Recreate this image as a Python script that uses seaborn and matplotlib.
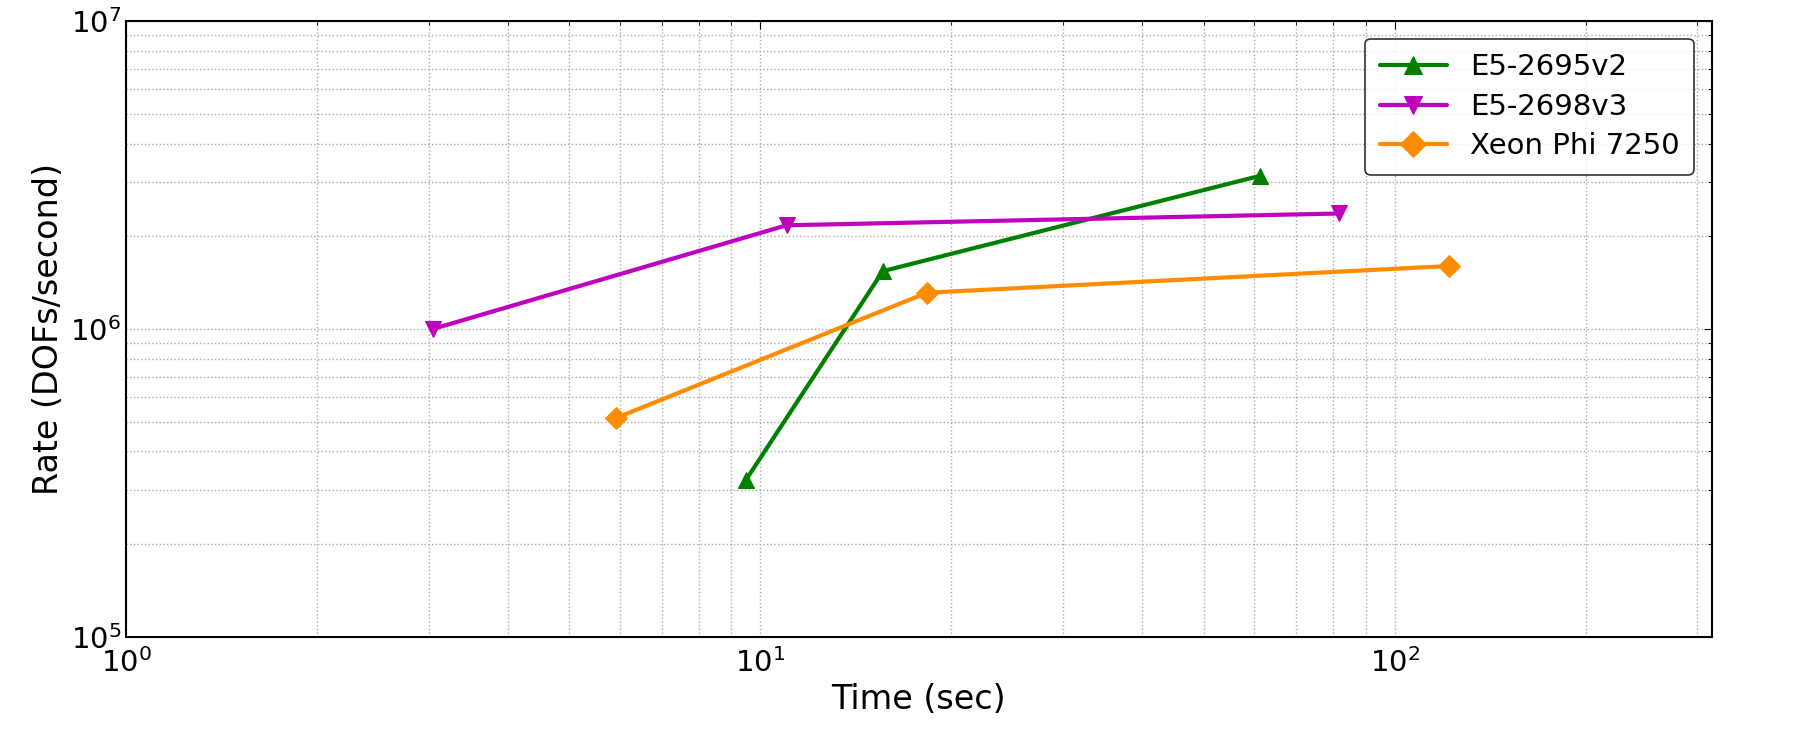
import matplotlib
matplotlib.use("Agg")
import matplotlib.pyplot as plt
import numpy as np
import pandas as pd
import seaborn as sns

# ---- data ----
SERIES = ["E5-2695v2", "E5-2698v3", "Xeon Phi 7250"]
time_2695 = [9.5, 15.6, 61.3]
rate_2695 = [3.24e5, 1.54e6, 3.14e6]
time_2698 = [3.05, 11.0, 81.8]
rate_2698 = [1.0e6, 2.17e6, 2.37e6]
time_phi = [5.93, 18.3, 121.7]
rate_phi = [5.14e5, 1.31e6, 1.60e6]

COLORS = {"E5-2695v2": "#008000", "E5-2698v3": "#bf00bf", "Xeon Phi 7250": "#ff8c00"}
MARKERS = {"E5-2695v2": "^", "E5-2698v3": "v", "Xeon Phi 7250": "D"}

df = pd.concat([
    pd.DataFrame({"time": time_2695, "rate": rate_2695, "cpu": SERIES[0]}),
    pd.DataFrame({"time": time_2698, "rate": rate_2698, "cpu": SERIES[1]}),
    pd.DataFrame({"time": time_phi, "rate": rate_phi, "cpu": SERIES[2]}),
], ignore_index=True)

sns.set_style("white")
plt.rcParams["font.family"] = ["DejaVu Sans"]
plt.rcParams["text.color"] = "black"
plt.rcParams["axes.labelcolor"] = "black"
plt.rcParams["xtick.color"] = "black"
plt.rcParams["ytick.color"] = "black"

fig = plt.figure(figsize=(18, 7.5), dpi=100)
ax = fig.add_axes([0.07, 0.151, 0.881, 0.821])

sns.lineplot(data=df, x="time", y="rate", hue="cpu", style="cpu",
             palette=COLORS, markers=MARKERS, dashes=False,
             linewidth=3, markersize=11, markeredgecolor=None, ax=ax)

ax.set_xscale("log")
ax.set_yscale("log")
ax.set_xlim(1, 10 ** 2.5)
ax.set_ylim(1e5, 1e7)

ax.grid(True, which="both", linestyle=":", color="#aaaaaa", linewidth=1.0)
ax.tick_params(which="both", direction="in", top=True, right=True, labelsize=21)
ax.tick_params(axis="x", which="major", pad=8)
ax.tick_params(which="major", length=6)
ax.tick_params(which="minor", length=3)
for s in ax.spines.values():
    s.set_color("black")
    s.set_linewidth(1.5)

ax.set_xlabel("Time (sec)", fontsize=24)
ax.set_ylabel("Rate (DOFs/second)", fontsize=24)

leg = ax.legend(loc="upper right", fontsize=21, frameon=True, fancybox=True,
                edgecolor="black", handlelength=2.3, borderpad=0.5,
                labelspacing=0.4, borderaxespad=0.6, markerscale=1.2)
leg.get_frame().set_linewidth(1.2)

fig.savefig("out.png", dpi=100)
